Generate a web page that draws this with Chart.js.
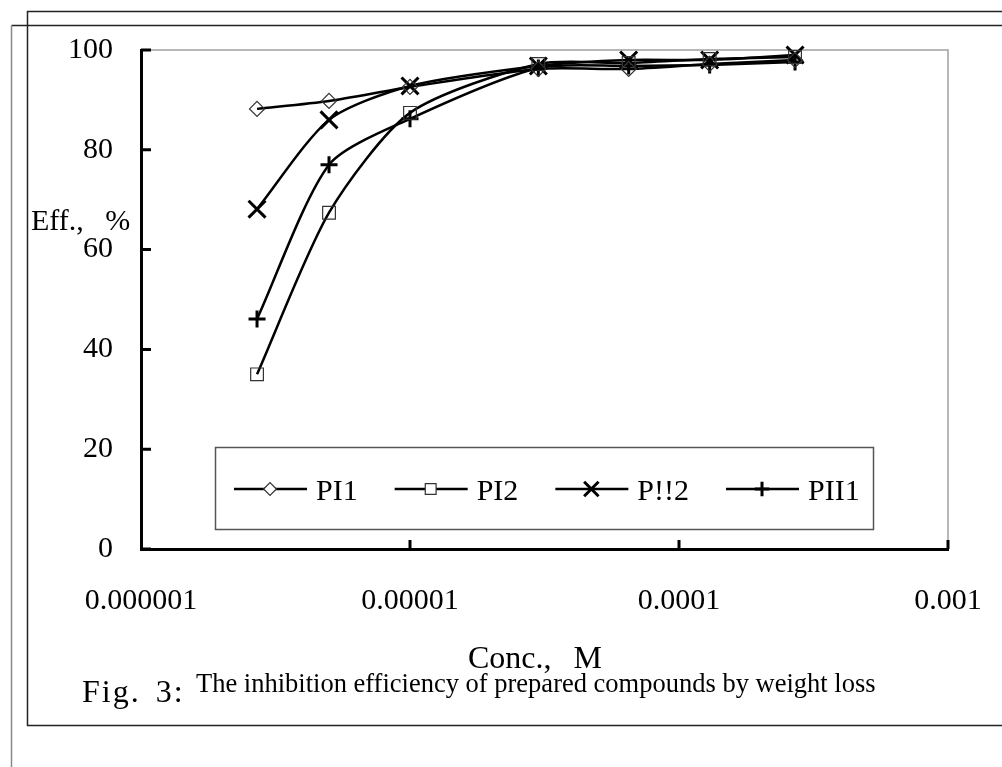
<!DOCTYPE html>
<html>
<head>
<meta charset="utf-8">
<script src="https://cdn.jsdelivr.net/npm/chart.js@4/dist/chart.umd.min.js"></script>
<style>
  body { margin: 0; background: #fff; }
  canvas { display: block; }
</style>
</head>
<body>
<canvas id="effChart" width="1002" height="767"></canvas>
<script>
// concentrations (M)
const concentrations = [2.7e-6, 5e-6, 1e-5, 3e-5, 6.5e-5, 1.3e-4, 2.7e-4];
// inhibition efficiency, %
const pi1  = [88.2, 89.8, 92.6, 96.2, 96.2, 97.2, 98.0];
const pi2  = [35.0, 67.4, 87.4, 97.2, 97.4, 98.2, 98.6];
const p2   = [68.1, 86.0, 92.8, 96.8, 98.0, 98.0, 99.0];
const pii1 = [46.1, 77.0, 86.2, 96.4, 96.8, 97.0, 97.6];
const seriesNames = ["PI1", "PI2", "P!!2", "PII1"];

const xTicks = [0.000001, 0.00001, 0.0001, 0.001];
const xTickLabels = ["0.000001", "0.00001", "0.0001", "0.001"];
const yTicks = [0, 20, 40, 60, 80, 100];

const SERIF = "'Liberation Serif', 'Times New Roman', serif";

function points(values) {
    return values.map((v, i) => ({ x: concentrations[i], y: v }));
}

function series(label, values, style, radius, width, color) {
    return {
        label: label,
        data: points(values),
        borderColor: "#000",
        borderWidth: 2.5,
        tension: 0.25,
        fill: false,
        clip: false,
        pointStyle: style,
        pointRadius: radius,
        pointBorderWidth: width,
        pointBorderColor: color,
        pointBackgroundColor: "rgba(0,0,0,0)"
    };
}

// page frames, plot border, inner ticks, legend and texts
const decorPlugin = {
    id: "decor",
    beforeDraw(chart) {
        const ctx = chart.ctx;
        ctx.save();
        ctx.fillStyle = "#fff";
        ctx.fillRect(0, 0, chart.width, chart.height);
        ctx.lineWidth = 1.5;
        ctx.strokeStyle = "#222";
        ctx.beginPath();
        ctx.moveTo(1002, 11.5); ctx.lineTo(27.5, 11.5); ctx.lineTo(27.5, 725.5); ctx.lineTo(1002, 725.5);
        ctx.stroke();
        ctx.beginPath();
        ctx.moveTo(1002, 25.5); ctx.lineTo(11.5, 25.5);
        ctx.stroke();
        ctx.strokeStyle = "#888";
        ctx.beginPath();
        ctx.moveTo(11.5, 25.5); ctx.lineTo(11.5, 767);
        ctx.stroke();
        ctx.restore();
    },
    beforeDatasetsDraw(chart) {
        const ctx = chart.ctx;
        const a = chart.chartArea;
        const xs = chart.scales.x, ys = chart.scales.y;
        ctx.save();
        ctx.strokeStyle = "#a0a0a0";
        ctx.lineWidth = 1.5;
        ctx.beginPath();
        ctx.moveTo(a.left, a.top); ctx.lineTo(a.right, a.top); ctx.lineTo(a.right, a.bottom);
        ctx.stroke();
        ctx.strokeStyle = "#000";
        ctx.lineWidth = 3;
        ctx.beginPath();
        yTicks.forEach(v => {
            const py = ys.getPixelForValue(v);
            ctx.moveTo(a.left, py); ctx.lineTo(a.left + 10, py);
        });
        xTicks.slice(1).forEach(v => {
            const px = xs.getPixelForValue(v);
            ctx.moveTo(px, a.bottom); ctx.lineTo(px, a.bottom - 9);
        });
        ctx.stroke();
        ctx.restore();
    },
    afterDraw(chart) {
        const ctx = chart.ctx;
        ctx.save();
        // legend box
        ctx.fillStyle = "#fff";
        ctx.fillRect(215, 447, 658, 82);
        ctx.strokeStyle = "#555";
        ctx.lineWidth = 1.5;
        ctx.strokeRect(215.5, 447.5, 658, 82);
        ctx.font = "30px " + SERIF;
        ctx.textBaseline = "alphabetic";
        let x0 = 234;
        const ly = 489;
        chart.data.datasets.forEach(ds => {
            ctx.strokeStyle = "#000";
            ctx.lineWidth = 2.5;
            ctx.beginPath();
            ctx.moveTo(x0, ly); ctx.lineTo(x0 + 73, ly);
            ctx.stroke();
            ctx.strokeStyle = ds.pointBorderColor;
            ctx.lineWidth = ds.pointBorderWidth;
            ctx.fillStyle = "#fff";
            Chart.helpers.drawPoint(ctx, {
                pointStyle: ds.pointStyle,
                radius: ds.pointRadius * 0.85,
                rotation: 0,
                borderWidth: ds.pointBorderWidth
            }, x0 + 36, ly);
            ctx.fillStyle = "#000";
            ctx.fillText(ds.label, x0 + 82, ly + 11);
            x0 += 82 + ctx.measureText(ds.label).width + 37;
        });
        // texts
        ctx.fillStyle = "#000";
        ctx.font = "30px " + SERIF;
        ctx.textAlign = "left";
        ctx.wordSpacing = "14px";
        ctx.fillText("Eff., %", 31, 230);
        ctx.font = "32px " + SERIF;
        ctx.wordSpacing = "14px";
        ctx.textAlign = "center";
        ctx.fillText("Conc., M", 535, 668);
        ctx.textAlign = "left";
        ctx.font = "32px " + SERIF;
        ctx.letterSpacing = "2px";
        ctx.wordSpacing = "5px";
        ctx.fillText("Fig. 3:", 82, 702);
        ctx.letterSpacing = "0px";
        ctx.wordSpacing = "0px";
        ctx.font = "26.5px " + SERIF;
        ctx.fillText("The inhibition efficiency of prepared compounds by weight loss", 196, 692);
        ctx.restore();
    }
};

new Chart(document.getElementById("effChart"), {
    type: "line",
    data: {
        datasets: [
            series(seriesNames[0], pi1, "rectRot", 7.5, 1.2, "#333"),
            series(seriesNames[1], pi2, "rect", 9, 1.2, "#333"),
            series(seriesNames[2], p2, "crossRot", 12, 3, "#000"),
            series(seriesNames[3], pii1, "cross", 8.5, 3, "#000")
        ]
    },
    options: {
        responsive: false,
        animation: false,
        devicePixelRatio: 1,
        layout: { padding: { top: 50, right: 54, left: 0, bottom: 0 } },
        plugins: {
            legend: { display: false },
            tooltip: { enabled: false }
        },
        scales: {
            x: {
                type: "logarithmic",
                min: 0.000001,
                max: 0.001,
                afterFit(s) {
                    s.height = 218;
                    s.paddingLeft = 0;
                    s.paddingRight = 0;
                },
                afterBuildTicks(s) { s.ticks = xTicks.map(v => ({ value: v })); },
                grid: { display: false, drawTicks: false },
                border: { color: "#000", width: 3 },
                ticks: {
                    autoSkip: false,
                    maxRotation: 0,
                    padding: 34,
                    color: "#000",
                    font: { family: SERIF, size: 30 },
                    callback: (v) => {
                        const i = xTicks.indexOf(v);
                        return i >= 0 ? xTickLabels[i] : "";
                    }
                }
            },
            y: {
                min: 0,
                max: 100,
                afterFit(s) { s.width = 141; },
                afterBuildTicks(s) { s.ticks = yTicks.map(v => ({ value: v })); },
                grid: { display: false, drawTicks: false },
                border: { color: "#000", width: 3 },
                ticks: {
                    padding: 28,
                    color: "#000",
                    font: { family: SERIF, size: 30 }
                }
            }
        }
    },
    plugins: [decorPlugin]
});
</script>
</body>
</html>
